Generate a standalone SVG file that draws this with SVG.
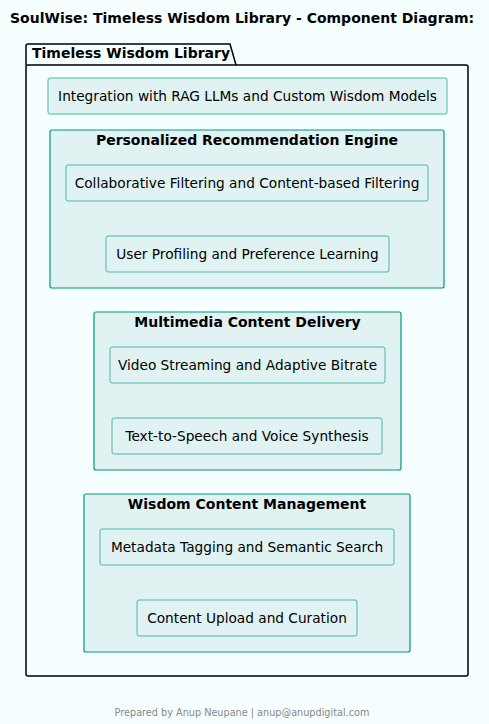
<svg xmlns="http://www.w3.org/2000/svg" width="489" height="724" viewBox="0 0 489 724">
<style>
text{font-family:"DejaVu Sans","Liberation Sans",sans-serif;fill:#000}
.t{font-size:14px;font-weight:bold}
.c{font-size:13.7px;text-anchor:middle}
.h{font-size:14px;font-weight:bold;text-anchor:middle}
.comp{fill:#E0F2F1;stroke:#4DB6AC;stroke-width:1}
.cont{fill:#E0F2F1;stroke:#009688;stroke-width:1.2}
.f{font-size:9.7px;fill:#888;text-anchor:middle}
</style>
<rect width="489" height="724" fill="#F5FFFF"/>
<text class="t" x="10" y="23">SoulWise: Timeless Wisdom Library - Component Diagram:</text>
<g id="pkg">
<path d="M26,65 L26,46 Q26,44 28,44 L230,44 L236,65" fill="none" stroke="#000" stroke-width="1.5"/>
<rect x="26" y="65" width="442" height="611" rx="2" fill="none" stroke="#000" stroke-width="1.5"/>
<text class="t" x="32" y="58">Timeless Wisdom Library</text>
</g>
<g id="integration">
<rect class="comp" x="48" y="78" width="399" height="36" rx="2"/>
<text class="c" x="247.5" y="101">Integration with RAG LLMs and Custom Wisdom Models</text>
</g>
<g id="pre">
<rect class="cont" x="50" y="130" width="394" height="158" rx="2"/>
<text class="h" x="247" y="145">Personalized Recommendation Engine</text>
<g id="collab">
<rect class="comp" x="66" y="165" width="362" height="36" rx="2"/>
<text class="c" x="247" y="188">Collaborative Filtering and Content-based Filtering</text>
</g>
<g id="profiling">
<rect class="comp" x="106" y="236" width="283" height="36" rx="2"/>
<text class="c" x="247.5" y="259">User Profiling and Preference Learning</text>
</g>
</g>
<g id="mcd">
<rect class="cont" x="94" y="312" width="307" height="158" rx="2"/>
<text class="h" x="247.5" y="327">Multimedia Content Delivery</text>
<g id="video">
<rect class="comp" x="110" y="347" width="275" height="36" rx="2"/>
<text class="c" x="247.5" y="370">Video Streaming and Adaptive Bitrate</text>
</g>
<g id="tts">
<rect class="comp" x="112" y="418" width="270" height="36" rx="2"/>
<text class="c" x="247" y="441">Text-to-Speech and Voice Synthesis</text>
</g>
</g>
<g id="wcm">
<rect class="cont" x="84" y="494" width="326" height="158" rx="2"/>
<text class="h" x="247" y="509">Wisdom Content Management</text>
<g id="metadata">
<rect class="comp" x="100" y="529" width="294" height="36" rx="2"/>
<text class="c" x="247" y="552">Metadata Tagging and Semantic Search</text>
</g>
<g id="upload">
<rect class="comp" x="137" y="600" width="220" height="36" rx="2"/>
<text class="c" x="247" y="623">Content Upload and Curation</text>
</g>
</g>
<g id="connectors"/>
<text class="f" x="242" y="716">Prepared by Anup Neupane | anup@anupdigital.com</text>
</svg>
